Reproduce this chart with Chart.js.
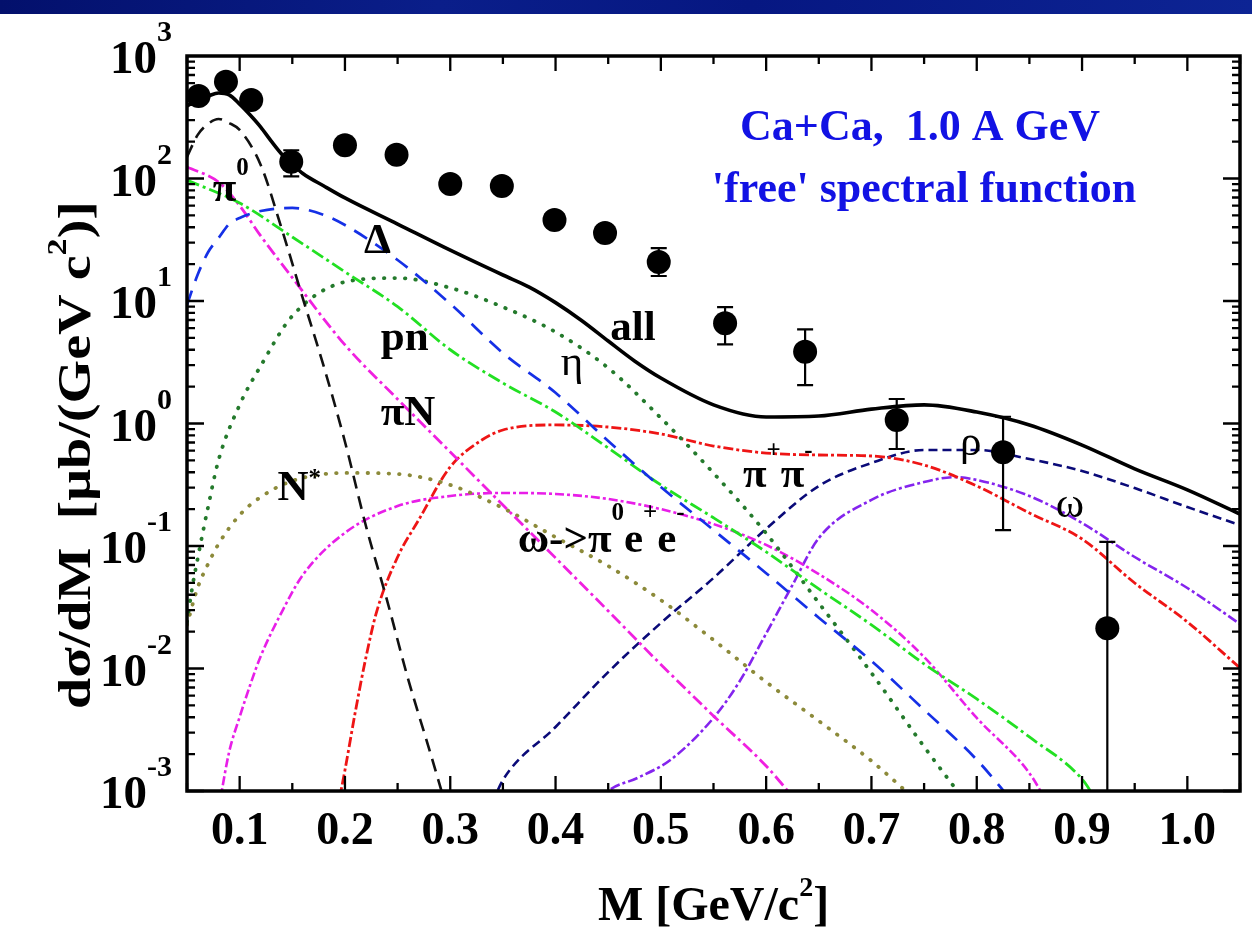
<!DOCTYPE html>
<html>
<head>
<meta charset="utf-8">
<title>Ca+Ca dilepton spectrum</title>
<script src="https://cdn.jsdelivr.net/npm/chart.js@4.4.1/dist/chart.umd.min.js"></script>
<style>
  html, body { margin: 0; padding: 0; background: #fff; }
  #spectrum { position: absolute; left: 0; top: 0; }
  #topBar {
    position: absolute; left: 0; top: 0; width: 1252px; height: 14px;
    background: linear-gradient(90deg, #03106c 0%, #0a1e8a 35%, #061782 60%, #0d2494 100%);
  }
</style>
</head>
<body>
<canvas id="spectrum" width="1252" height="944"></canvas>
<div id="topBar"></div>
<script>
// measured points (GeV/c^2, mub/(GeV c^2)) with error bar limits
const dataMass  = [0.061, 0.087, 0.111, 0.149, 0.200, 0.249, 0.300, 0.349, 0.399, 0.447, 0.498, 0.561, 0.637, 0.724, 0.825, 0.924];
const dataYield = [471, 617, 437, 137, 187, 156, 90, 87, 45.8, 35.9, 20.8, 6.58, 3.86, 1.07, 0.582, 0.0213];
const dataHigh  = [500, 650, 460, 170, 200, 167, 96, 93, 50, 41, 27, 8.9, 5.87, 1.585, 1.135, 0.108];
const dataLow   = [440, 585, 415, 104, 175, 146, 84, 81, 41.6, 30.8, 16, 4.43, 2.06, 0.619, 0.135, 0.00001];

// total
const allMass  = [0.05, 0.06, 0.07, 0.08, 0.09, 0.10, 0.11, 0.12, 0.13, 0.14, 0.15, 0.16, 0.18, 0.20, 0.25, 0.30, 0.35, 0.375, 0.40, 0.425, 0.45, 0.475, 0.50, 0.55, 0.60, 0.65, 0.70, 0.75, 0.80, 0.85, 0.90, 0.95, 1.00, 1.05];
const allYield = [391, 437, 471, 499, 481, 405, 330, 263, 202, 158, 131, 110, 86.9, 69.4, 42.5, 26, 16.3, 13.0, 9.7, 6.9, 4.71, 3.24, 2.35, 1.42, 1.13, 1.15, 1.31, 1.42, 1.24, 0.973, 0.667, 0.426, 0.287, 0.182];

// pi0 Dalitz
const pi0Mass  = [0.05, 0.06, 0.07, 0.08, 0.09, 0.10, 0.12, 0.14, 0.16, 0.18, 0.20, 0.22, 0.24, 0.26, 0.28, 0.295];
const pi0Yield = [150, 226, 279, 306, 284, 249, 129, 38.7, 10.5, 2.9, 0.71, 0.145, 0.036, 0.0082, 0.0022, 0.0008];

// Delta Dalitz
const deltaMass  = [0.05, 0.06, 0.07, 0.08, 0.09, 0.10, 0.12, 0.15, 0.18, 0.20, 0.25, 0.30, 0.35, 0.40, 0.45, 0.50, 0.55, 0.60, 0.65, 0.70, 0.75, 0.80, 0.835];
const deltaYield = [9.3, 16.3, 25, 32.7, 42.5, 47.6, 54.3, 57.5, 50.4, 41.7, 21.6, 9.5, 3.76, 1.78, 0.72, 0.303, 0.135, 0.06, 0.026, 0.0115, 0.0046, 0.0018, 0.0008];

// pn bremsstrahlung
const pnMass  = [0.05, 0.10, 0.15, 0.20, 0.25, 0.30, 0.35, 0.40, 0.45, 0.50, 0.55, 0.60, 0.65, 0.70, 0.75, 0.80, 0.85, 0.90, 0.915];
const pnYield = [97, 63, 33.3, 17.3, 9, 4.0, 2.14, 1.24, 0.631, 0.315, 0.17, 0.0894, 0.0446, 0.0227, 0.0109, 0.00564, 0.00276, 0.00125, 0.0008];

// piN bremsstrahlung
const piNMass  = [0.05, 0.08, 0.10, 0.12, 0.15, 0.20, 0.25, 0.30, 0.35, 0.40, 0.45, 0.50, 0.55, 0.60, 0.63];
const piNYield = [124, 93.5, 60, 34, 15.5, 4.38, 1.58, 0.585, 0.216, 0.08, 0.0295, 0.0108, 0.0041, 0.0016, 0.0008];

// eta Dalitz
const etaMass  = [0.05, 0.055, 0.06, 0.07, 0.08, 0.10, 0.12, 0.15, 0.20, 0.25, 0.30, 0.35, 0.40, 0.45, 0.50, 0.55, 0.60, 0.65, 0.70, 0.75, 0.79];
const etaYield = [0.024, 0.046, 0.078, 0.208, 0.504, 1.42, 2.95, 7.55, 14.3, 15.4, 12.8, 8.93, 5.58, 2.84, 1.11, 0.394, 0.127, 0.0343, 0.0092, 0.0023, 0.0008];

// N* Dalitz
const nstarMass  = [0.05, 0.06, 0.07, 0.08, 0.10, 0.12, 0.15, 0.20, 0.25, 0.30, 0.35, 0.40, 0.45, 0.50, 0.55, 0.60, 0.65, 0.70, 0.745];
const nstarYield = [0.0227, 0.0454, 0.0713, 0.104, 0.179, 0.251, 0.34, 0.395, 0.387, 0.315, 0.204, 0.118, 0.0687, 0.0362, 0.0171, 0.00776, 0.00373, 0.00176, 0.0008];

// pi+ pi- annihilation
const pipiMass  = [0.194, 0.20, 0.21, 0.22, 0.23, 0.25, 0.27, 0.30, 0.33, 0.35, 0.40, 0.45, 0.50, 0.55, 0.60, 0.65, 0.70, 0.75, 0.80, 0.85, 0.90, 0.95, 1.00, 1.05];
const pipiYield = [0.0008, 0.00148, 0.0045, 0.0124, 0.0289, 0.0813, 0.163, 0.442, 0.733, 0.885, 0.973, 0.936, 0.821, 0.655, 0.574, 0.553, 0.543, 0.458, 0.309, 0.186, 0.114, 0.0499, 0.024, 0.0101];

// omega -> pi0 e+ e-
const dalitzMass  = [0.081, 0.09, 0.10, 0.11, 0.12, 0.14, 0.16, 0.20, 0.25, 0.30, 0.35, 0.40, 0.45, 0.50, 0.55, 0.60, 0.65, 0.70, 0.75, 0.80, 0.85, 0.867];
const dalitzYield = [0.0008, 0.00208, 0.00402, 0.00733, 0.0126, 0.0289, 0.058, 0.128, 0.212, 0.256, 0.271, 0.266, 0.242, 0.2, 0.151, 0.102, 0.059, 0.03, 0.0124, 0.00395, 0.0014, 0.0008];

// rho direct decay
const rhoMass  = [0.34, 0.35, 0.40, 0.45, 0.50, 0.55, 0.60, 0.65, 0.70, 0.75, 0.80, 0.85, 0.90, 0.95, 1.00, 1.05];
const rhoYield = [0.0008, 0.00123, 0.00333, 0.00935, 0.0235, 0.0548, 0.138, 0.309, 0.476, 0.608, 0.608, 0.513, 0.409, 0.297, 0.208, 0.148];

// omega direct decay
const omegaMass  = [0.44, 0.45, 0.478, 0.509, 0.55, 0.575, 0.60, 0.625, 0.65, 0.70, 0.75, 0.78, 0.80, 0.85, 0.90, 0.95, 1.00, 1.05];
const omegaYield = [0.0008, 0.001, 0.00128, 0.00179, 0.00395, 0.0079, 0.0193, 0.048, 0.116, 0.238, 0.333, 0.365, 0.346, 0.256, 0.154, 0.0813, 0.0454, 0.0231];

// axis ticks
const massTicks = [0.1, 0.2, 0.3, 0.4, 0.5, 0.6, 0.7, 0.8, 0.9, 1.0];
const decades = [-3, -2, -1, 0, 1, 2, 3];

const SERIF = "'Liberation Serif', 'Times New Roman', serif";

// in-plot captions, placed in data coordinates; [text, rise] pieces are superscripts
const captions = [
  { m: 0.0745, v: 65.5, parts: ['π', ['0', 26]], weight: 'bold' },
  { m: 0.218, v: 24.7, parts: ['Δ'], weight: 'bold' },
  { m: 0.234, v: 3.98, parts: ['pn'], weight: 'bold' },
  { m: 0.234, v: 0.973, parts: ['πN'], weight: 'bold' },
  { m: 0.136, v: 0.238, parts: ['N', ['*', 14]], weight: 'bold' },
  { m: 0.405, v: 2.49, parts: ['η'], weight: 'normal' },
  { m: 0.452, v: 4.81, parts: ['all'], weight: 'bold' },
  { m: 0.578, v: 0.303, parts: ['π', ['+', 29], 'π', ['-', 29]], weight: 'bold' },
  { m: 0.364, v: 0.0893, parts: ['ω->π', ['0', 32], 'e', ['+', 32], 'e', ['-', 32]], weight: 'bold' },
  { m: 0.784, v: 0.553, parts: ['ρ'], weight: 'normal' },
  { m: 0.875, v: 0.173, parts: ['ω'], weight: 'normal' }
];

function points(mass, values) {
  return mass.map((m, i) => ({ x: m, y: values[i] }));
}

function curve(mass, values, color, dash, width, cap) {
  return {
    data: points(mass, values),
    showLine: true,
    borderColor: color,
    borderWidth: width,
    borderDash: dash,
    borderCapStyle: cap || 'butt',
    pointRadius: 0,
    cubicInterpolationMode: 'monotone',
    clip: 0,
    order: 2
  };
}

// draws a run of text with raised superscript pieces, returns its width
function rich(ctx, parts, x, y, size, weight, align, supSize) {
  const pieces = parts.map(p => typeof p === 'string'
    ? { t: p, s: size, r: 0 }
    : { t: p[0], s: supSize || Math.round(size * 0.6), r: p[1] });
  let total = 0;
  pieces.forEach(p => {
    ctx.font = `${weight} ${p.s}px ${SERIF}`;
    p.w = ctx.measureText(p.t).width;
    total += p.w;
  });
  let cx = x;
  if (align === 'center') cx = x - total / 2;
  if (align === 'right') cx = x - total;
  ctx.textAlign = 'left';
  ctx.textBaseline = 'alphabetic';
  pieces.forEach(p => {
    ctx.font = `${weight} ${p.s}px ${SERIF}`;
    ctx.fillText(p.t, cx, y - p.r);
    cx += p.w;
  });
  return total;
}

const framePlugin = {
  id: 'frame',
  afterDatasetsDraw(chart) {
    const { ctx, chartArea: a, scales: { x, y } } = chart;
    ctx.save();
    ctx.beginPath();
    ctx.rect(a.left, a.top, a.right - a.left, a.bottom - a.top);
    ctx.clip();
    ctx.strokeStyle = '#000';
    ctx.lineWidth = 2.2;
    dataMass.forEach((m, i) => {
      const px = x.getPixelForValue(m);
      const hi = y.getPixelForValue(dataHigh[i]);
      const lo = y.getPixelForValue(dataLow[i]);
      ctx.beginPath();
      ctx.moveTo(px, hi); ctx.lineTo(px, lo);
      ctx.moveTo(px - 8, hi); ctx.lineTo(px + 8, hi);
      ctx.moveTo(px - 8, lo); ctx.lineTo(px + 8, lo);
      ctx.stroke();
    });
    ctx.restore();
  },
  afterDraw(chart) {
    const { ctx, chartArea: a, scales: { x, y } } = chart;
    ctx.save();
    ctx.strokeStyle = '#000';
    ctx.fillStyle = '#000';

    // inward ticks on all four sides
    ctx.lineWidth = 2.3;
    ctx.beginPath();
    for (let i = 0; i <= 20; i++) {
      const px = x.getPixelForValue(0.05 + i * 0.05);
      const len = i % 2 === 1 ? 15 : 8;
      ctx.moveTo(px, a.bottom); ctx.lineTo(px, a.bottom - len);
      ctx.moveTo(px, a.top); ctx.lineTo(px, a.top + len);
    }
    for (let d = -3; d <= 2; d++) {
      for (let k = 1; k <= 9; k++) {
        const py = y.getPixelForValue(k * Math.pow(10, d));
        const len = k === 1 ? 17 : 8;
        ctx.moveTo(a.left, py); ctx.lineTo(a.left + len, py);
        ctx.moveTo(a.right, py); ctx.lineTo(a.right - len, py);
      }
    }
    ctx.stroke();

    ctx.lineWidth = 3.5;
    ctx.strokeRect(a.left, a.top, a.right - a.left, a.bottom - a.top);

    // tick labels
    massTicks.forEach(v => {
      rich(ctx, [v.toFixed(1)], x.getPixelForValue(v), a.bottom + 53, 46, 'bold', 'center');
    });
    decades.forEach(d => {
      const py = y.getPixelForValue(Math.pow(10, d));
      rich(ctx, ['10', [String(d), 32]], 172, py + 17, 47, 'bold', 'right', 30);
    });

    // axis titles; the rotated one runs a little stretched along its baseline
    rich(ctx, ['M [GeV/c', ['2', 24], ']'], (a.left + a.right) / 2, 920, 48, 'bold', 'center', 28);
    ctx.save();
    ctx.translate(90, 455);
    ctx.rotate(-Math.PI / 2);
    ctx.scale(1.22, 1);
    rich(ctx, ['dσ/dM  [μb/(GeV c', ['2', 24], ')]'], 0, 0, 46, 'bold', 'center', 28);
    ctx.restore();

    // curve captions
    captions.forEach(c => {
      rich(ctx, c.parts, x.getPixelForValue(c.m), y.getPixelForValue(c.v), 43, c.weight, 'left', 25);
    });

    // system caption
    ctx.fillStyle = '#1212e4';
    rich(ctx, ['Ca+Ca,  1.0 A GeV'], 920, 140, 44, 'bold', 'center');
    rich(ctx, ["'free' spectral function"], 924, 202, 44, 'bold', 'center');
    ctx.restore();
  }
};

const datasets = [
  {
    data: points(dataMass, dataYield),
    showLine: false,
    pointRadius: 12,
    pointBackgroundColor: '#000',
    pointBorderWidth: 0,
    order: 0
  },
  curve(allMass, allYield, '#000000', [], 3.6),
  curve(pi0Mass, pi0Yield, '#111111', [13, 8], 2.6),
  curve(deltaMass, deltaYield, '#1530e6', [15, 10], 2.7),
  curve(pnMass, pnYield, '#22e022', [13, 4, 3, 4], 2.8),
  curve(piNMass, piNYield, '#f020e0', [12, 4, 3, 4], 2.8),
  curve(etaMass, etaYield, '#247a2c', [0.5, 10], 3.8, 'round'),
  curve(nstarMass, nstarYield, '#8c8a3a', [0.5, 10], 3.8, 'round'),
  curve(pipiMass, pipiYield, '#ee1515', [10, 3, 3, 3], 2.8),
  curve(dalitzMass, dalitzYield, '#e81ee8', [9, 3, 3, 3], 2.6),
  curve(rhoMass, rhoYield, '#0a0a78', [9, 5], 2.6),
  curve(omegaMass, omegaYield, '#8424ee', [10, 3, 3, 3], 2.6)
];

new Chart(document.getElementById('spectrum'), {
  type: 'scatter',
  data: { datasets },
  options: {
    responsive: false,
    animation: false,
    devicePixelRatio: 1,
    layout: { padding: { left: 187, right: 5, top: 56, bottom: 153 } },
    plugins: { legend: { display: false }, tooltip: { enabled: false } },
    scales: {
      x: { type: 'linear', min: 0.05, max: 1.05, display: false },
      y: { type: 'logarithmic', min: 0.001, max: 1000, display: false }
    }
  },
  plugins: [framePlugin]
});
</script>
</body>
</html>
